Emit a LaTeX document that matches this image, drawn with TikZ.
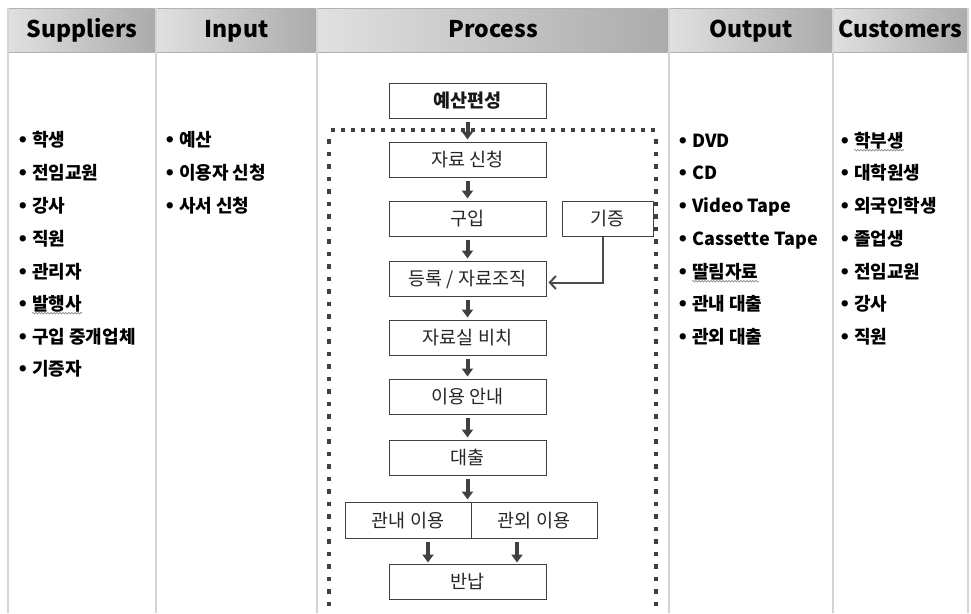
\documentclass[tikz,border=0pt]{standalone}
\usepackage{fontspec}
\setmainfont{Noto Sans CJK KR}
\newfontfamily\symfont{DejaVu Sans}
\usetikzlibrary{arrows.meta,decorations.pathmorphing}
\newcommand{\itm}[1]{\makebox[15pt][l]{\symfont •}#1}

\begin{document}
\begin{tikzpicture}[x=1pt,y=-1pt,
        head/.style={draw=black!30,left color=black!12,right color=black!33,minimum height=44pt,inner sep=0pt,text height=17pt,text depth=3pt,font=\fontsize{23}{26}\selectfont\bfseries},
        colline/.style={black!17,line width=1.5pt},
        item/.style={anchor=west,inner sep=0pt,text height=15pt,text depth=1pt,font=\fontsize{18}{21}\selectfont\bfseries},
        pbox/.style={draw=black!75,line width=1pt,fill=white,minimum width=157pt,minimum height=35pt,inner sep=0pt,text height=14.5pt,text depth=0.5pt,text=black!85,font=\fontsize{18.5}{21}\selectfont},
        blk/.style={black!75,line width=4pt,-{Triangle[width=11pt,length=8pt]}},
        thinarr/.style={black!70,line width=2pt,-{Straight Barb[length=6pt,width=13pt]}},
        squig/.style={draw=black!50,line width=0.6pt,decorate,decoration={snake,amplitude=0.8pt,segment length=3pt}}]
        \useasboundingbox (0,0) rectangle (971,613);
        \clip (0,0) rectangle (971,613);
        % header row
        \node[head,minimum width=148pt] (hs) at (82,30) {Suppliers};
        \node[head,minimum width=161pt] (hi) at (236.5,30) {Input};
        \node[head,minimum width=352pt] (hp) at (493,30) {Process};
        \node[head,minimum width=164pt] (ho) at (751,30) {Output};
        \node[head,minimum width=135pt] (hc) at (900.5,30) {Customers};
        \draw[colline] (8,8) -- (8,613);
        \draw[colline] (156,8) -- (156,613);
        \draw[colline] (317,8) -- (317,613);
        \draw[colline] (669,8) -- (669,613);
        \draw[colline] (833,8) -- (833,613);
        \draw[colline] (968,8) -- (968,613);

        % suppliers
        \node[item] (s1) at (17,139) {\itm{학생}};
        \node[item] (s2) at (17,172) {\itm{전임교원}};
        \node[item] (s3) at (17,205) {\itm{강사}};
        \node[item] (s4) at (17,238) {\itm{직원}};
        \node[item] (s5) at (17,271) {\itm{관리자}};
        \node[item] (s6) at (17,303) {\itm{발행사}};
        \node[item] (s7) at (17,336) {\itm{구입 중개업체}};
        \node[item] (s8) at (17,368) {\itm{기증자}};
        % input
        \node[item] (i1) at (164,139) {\itm{예산}};
        \node[item] (i2) at (164,172) {\itm{이용자 신청}};
        \node[item] (i3) at (164,205) {\itm{사서 신청}};
        % output
        \node[item] (o1) at (677,140) {\itm{DVD}};
        \node[item] (o2) at (677,172) {\itm{CD}};
        \node[item] (o3) at (677,205) {\itm{Video Tape}};
        \node[item] (o4) at (677,238) {\itm{Cassette Tape}};
        \node[item] (o5) at (677,271) {\itm{딸림자료}};
        \node[item] (o6) at (677,303) {\itm{관내 대출}};
        \node[item] (o7) at (677,336) {\itm{관외 대출}};
        % customers
        \node[item] (c1) at (839,140) {\itm{학부생}};
        \node[item] (c2) at (839,172) {\itm{대학원생}};
        \node[item] (c3) at (839,205) {\itm{외국인학생}};
        \node[item] (c4) at (839,238) {\itm{졸업생}};
        \node[item] (c5) at (839,271) {\itm{전임교원}};
        \node[item] (c6) at (839,303) {\itm{강사}};
        \node[item] (c7) at (839,336) {\itm{직원}};
        \draw[squig] ([xshift=15pt,yshift=-2pt]s6.south west) -- ([yshift=-2pt]s6.south east);
        \draw[squig] ([xshift=15pt,yshift=-2pt]o5.south west) -- ([yshift=-2pt]o5.south east);
        \draw[squig] ([xshift=15pt,yshift=-2pt]c1.south west) -- ([yshift=-2pt]c1.south east);

        % process frame
        \draw[black!75,line width=4pt,dash pattern=on 4pt off 6pt] (331,130) -- (656,130);
        \draw[black!75,line width=4pt,dash pattern=on 4.5pt off 8pt] (329,139) -- (329,620);
        \draw[black!75,line width=4pt,dash pattern=on 4.5pt off 8pt] (656,139) -- (656,620);

        % process boxes
        \node[pbox,font=\fontsize{18.5}{21}\selectfont\bfseries,text=black!90] (bud) at (467.5,100.5) {예산편성};
        \node[pbox] (req) at (467.5,159.5) {자료 신청};
        \node[pbox] (buy) at (467.5,218.5) {구입};
        \node[pbox,minimum width=91pt] (gift) at (607.5,218.5) {기증};
        \node[pbox] (reg) at (467.5,278.5) {등록 / 자료조직};
        \node[pbox] (shelf) at (467.5,337.5) {자료실 비치};
        \node[pbox] (guide) at (467.5,396.5) {이용 안내};
        \node[pbox] (loan) at (467.5,457.5) {대출};
        \node[pbox,minimum width=126pt,minimum height=36pt] (inuse) at (408,520) {관내 이용};
        \node[pbox,minimum width=126pt,minimum height=36pt] (outuse) at (534,520) {관외 이용};
        \node[pbox] (ret) at (467.5,581.5) {반납};

        \draw[blk] ([yshift=-3pt]bud.south) -- ([yshift=2pt]req.north);
        \draw[blk] ([yshift=-3pt]req.south) -- ([yshift=2pt]buy.north);
        \draw[blk] ([yshift=-3pt]buy.south) -- ([yshift=2pt]reg.north);
        \draw[blk] ([yshift=-3pt]reg.south) -- ([yshift=2pt]shelf.north);
        \draw[blk] ([yshift=-3pt]shelf.south) -- ([yshift=2pt]guide.north);
        \draw[blk] ([yshift=-3pt]guide.south) -- ([yshift=2pt]loan.north);
        \draw[blk] ([yshift=-3pt]loan.south) -- ([yshift=2pt]loan.south |- inuse.north);
        \draw[blk] ([xshift=20pt,yshift=-3pt]inuse.south) -- ++(0,21);
        \draw[blk] ([xshift=-17pt,yshift=-3pt]outuse.south) -- ++(0,21);
        \draw[thinarr] ([xshift=-5pt]gift.south) |- ([xshift=2pt,yshift=-4pt]reg.east);
    \end{tikzpicture}
\end{document}
